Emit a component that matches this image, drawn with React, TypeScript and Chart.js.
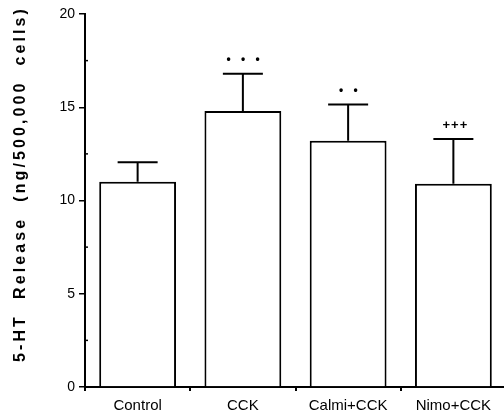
import React, { useEffect, useRef } from 'react';
import { Chart, registerables } from 'chart.js';

Chart.register(...registerables);

const categories = ['Control', 'CCK', 'Calmi+CCK', 'Nimo+CCK'];
const means = [11.0, 14.8, 13.2, 10.9];
const errors = [1.05, 2.0, 1.95, 2.4];
const sigLabels = ['', '• • •', '• •', '+++'];
const minorTicks = [2.5, 7.5, 12.5, 17.5];
const yTitle = '5-HT  Release  (ng/500,000  cells)';

const FONT = 'Arial, "Liberation Sans", Helvetica, sans-serif';

const annotPlugin = {
  id: 'annot',
  afterDatasetsDraw(chart: any) {
    const { ctx } = chart;
    const y = chart.scales.y;
    const meta = chart.getDatasetMeta(0);
    ctx.save();
    ctx.strokeStyle = '#000';
    ctx.fillStyle = '#000';
    ctx.lineWidth = 2;
    meta.data.forEach((bar: any, i: number) => {
      const cx = bar.x;
      const yTop = y.getPixelForValue(means[i]);
      const yErr = y.getPixelForValue(means[i] + errors[i]);
      ctx.beginPath();
      ctx.moveTo(cx, yTop);
      ctx.lineTo(cx, yErr);
      ctx.moveTo(cx - 20, yErr);
      ctx.lineTo(cx + 20, yErr);
      ctx.stroke();
      const s = sigLabels[i];
      if (s) {
        ctx.textAlign = 'center';
        ctx.textBaseline = 'middle';
        if (s.includes('+')) {
          ctx.font = 'bold 13px ' + FONT;
          (ctx as any).letterSpacing = '1px';
        } else {
          ctx.font = 'bold 12px ' + FONT;
          (ctx as any).letterSpacing = '3.5px';
        }
        ctx.fillText(s, cx + 2, yErr - 14);
        (ctx as any).letterSpacing = '0px';
      }
    });
    // minor ticks on y axis
    const left = chart.chartArea.left;
    ctx.lineWidth = 1.5;
    minorTicks.forEach((v) => {
      const py = y.getPixelForValue(v);
      ctx.beginPath();
      ctx.moveTo(left, py);
      ctx.lineTo(left + 3, py);
      ctx.stroke();
    });
    // y-axis title
    ctx.font = 'bold 16px ' + FONT;
    (ctx as any).letterSpacing = '0px';
    const w0 = ctx.measureText(yTitle).width;
    const ls = (356 - w0) / yTitle.length;
    (ctx as any).letterSpacing = ls + 'px';
    ctx.translate(21, 184);
    ctx.rotate(-Math.PI / 2);
    ctx.textAlign = 'center';
    ctx.textBaseline = 'middle';
    ctx.fillText(yTitle, 0, 0);
    ctx.restore();
  },
};

export default function App() {
  const ref = useRef<HTMLCanvasElement | null>(null);
  useEffect(() => {
    if (!ref.current) return;
    const chart = new Chart(ref.current, {
      type: 'bar',
      data: {
        labels: categories,
        datasets: [
          {
            data: means,
            backgroundColor: '#fff',
            borderColor: '#000',
            borderWidth: 2,
            borderSkipped: 'bottom',
            barPercentage: 0.73,
            categoryPercentage: 1,
          },
        ],
      },
      options: {
        responsive: false,
        animation: false,
        devicePixelRatio: 1,
        layout: { padding: { left: 0, top: 14, right: 2, bottom: 0 } },
        plugins: {
          legend: { display: false },
          tooltip: { enabled: false },
          title: { display: false },
        },
        scales: {
          x: {
            type: 'category',
            offset: true,
            grid: {
              offset: true,
              drawOnChartArea: false,
              drawTicks: true,
              tickLength: 4,
              color: '#000',
              lineWidth: 2,
            },
            border: { display: true, color: '#000', width: 2 },
            ticks: {
              color: '#000',
              font: { family: FONT, size: 15 },
              padding: 6,
              maxRotation: 0,
              autoSkip: false,
            },
            afterFit: (scale: any) => {
              scale.height = 26;
            },
          },
          y: {
            min: 0,
            max: 20,
            grid: {
              drawOnChartArea: false,
              drawTicks: true,
              tickLength: 6,
              color: '#000',
              lineWidth: 1.5,
            },
            border: { display: true, color: '#000', width: 2 },
            ticks: {
              stepSize: 5,
              color: '#000',
              font: { family: FONT, size: 14 },
              padding: 4,
            },
            afterFit: (scale: any) => {
              scale.width = 85;
            },
          },
        },
      },
      plugins: [annotPlugin],
    });
    return () => chart.destroy();
  }, []);
  return (
    <div style={{ position: 'fixed', left: 0, top: 0, width: 504, height: 413, overflow: 'hidden', background: '#fff' }}>
      <canvas ref={ref} width={508} height={413} style={{ display: 'block' }} />
    </div>
  );
}
